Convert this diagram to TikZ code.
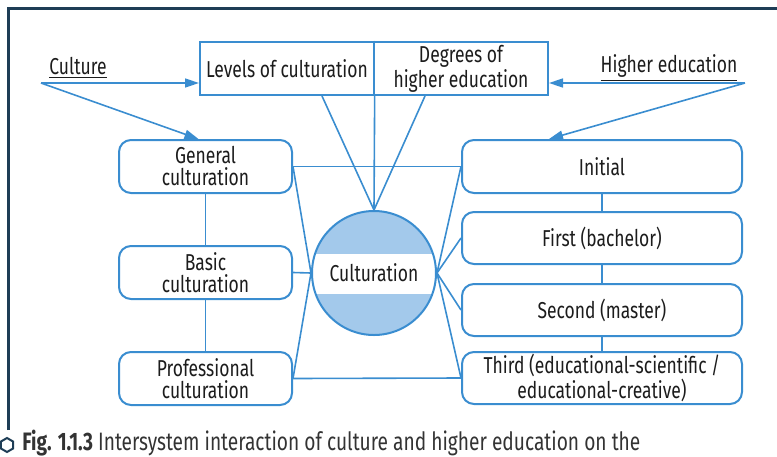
\documentclass[tikz,border=0pt]{standalone}
\usepackage{fontspec}
\setmainfont{Fira Sans}[FakeStretch=0.76]
\usetikzlibrary{arrows.meta}
\usetikzlibrary{calc}
\pgfdeclarelayer{background}
\pgfsetlayers{background,main}
\definecolor{lineblue}{HTML}{3A8DD0}
\definecolor{circblue}{HTML}{A3C9EB}
\definecolor{framenavy}{HTML}{1E3D56}
\definecolor{inkgray}{HTML}{1C1C1C}

\begin{document}
\begin{tikzpicture}[x=0.5pt,y=-0.5pt,
  font=\fontsize{11.5}{11}\selectfont, text=inkgray,
  link/.style={draw=lineblue,line width=0.8pt},
  feed/.style={link,-{Triangle[length=7pt,width=4.5pt]}},
  levelbox/.style={draw=lineblue,line width=1pt,fill=white,minimum width=87pt,
    minimum height=26.5pt,align=center,inner sep=1pt},
  stagebox/.style={draw=lineblue,line width=1pt,fill=white,rounded corners=6pt,
    minimum height=26.5pt,align=center,inner sep=1pt}]

  \useasboundingbox (0,0) rectangle (777,456);
  \clip (0,0) rectangle (777,456);

  \draw[framenavy,line width=1.5pt] (8,430) -- (8,8) -- (777,8);

  % top boxes
  \node[levelbox] (levels) at (287,68.5) {Levels of culturation};
  \node[levelbox] (degrees) at (461,68.5) {Degrees of\\higher education};

  % sources
  \node (culture) at (78,68) {\underline{Culture}};
  \node (higher) at (669,68) {\underline{Higher education}};
  \coordinate (cfork) at (41,83);
  \coordinate (hfork) at (745,83);

  % left stack
  \def\lx{205.5}
  \node[stagebox,minimum width=86.5pt] (general) at (\lx,166.5) {General\\culturation};
  \node[stagebox,minimum width=86.5pt] (basic) at (\lx,272.5) {Basic\\culturation};
  \node[stagebox,minimum width=86.5pt] (professional) at (\lx,378.5) {Professional\\culturation};

  % right stack
  \def\rx{602}
  \node[stagebox,minimum width=140pt] (initial) at (\rx,166.5) {Initial};
  \node[stagebox,minimum width=140pt,minimum height=26pt] (first) at (\rx,238) {First (bachelor)};
  \node[stagebox,minimum width=140pt,minimum height=26pt] (second) at (\rx,310) {Second (master)};
  \node[stagebox,minimum width=140pt,minimum height=26pt] (third) at (\rx,378)
    {Third (educational-scientific /\\educational-creative)};

  % center
  \node[circle,draw=lineblue,line width=1pt,minimum size=62pt,inner sep=0pt,
    path picture={
      \fill[circblue] (path picture bounding box.south west) rectangle (path picture bounding box.north east);
      \fill[white] ($(path picture bounding box.west)+(0,9.5pt)$) rectangle ($(path picture bounding box.east)+(0,-10.5pt)$);
    }] (cult) at (374,273) {Culturation};

  % links
  \begin{pgfonlayer}{background}
    \draw[link] (levels.north east) -- (cult.north);
    \draw[link] ([xshift=17.5pt]levels.south) -- (cult.north);
    \draw[link] ([xshift=-18pt]degrees.south) -- (cult.north);
    \draw[link] (general.east) -- (initial.west);
    \draw[link] (professional.east) -- (third.west);
    \foreach \s in {general,basic,professional}
      \draw[link] (\s.east) -- (cult.west);
    \foreach \s in {initial,first,second,third}
      \draw[link] (\s.west) -- (cult.east);
    \draw[link] (general) -- (basic) -- (professional);
    \draw[link] (initial) -- (first) -- (second) -- (third);
  \end{pgfonlayer}

  % arrows
  \draw[feed] (cfork) -- (cfork -| levels.west);
  \draw[feed] (cfork) -- ([xshift=-3.5pt]general.north);
  \draw[feed] (hfork) -- (hfork -| degrees.east);
  \draw[feed] (hfork) -- ([xshift=44pt]initial.north west);

  % caption
  \draw[framenavy,line width=1pt] (7,445) +(30:7) -- +(90:7) -- +(150:7) -- +(210:7)
    -- +(270:7) -- +(330:7) -- cycle;
  \node[anchor=base west,inner sep=0pt,text=black!80,font=\fontsize{12.6}{13}\selectfont]
    (caption) at (22,450)
    {\textbf{Fig. 1.1.3} Intersystem interaction of culture and higher education on the};
\end{tikzpicture}
\end{document}
